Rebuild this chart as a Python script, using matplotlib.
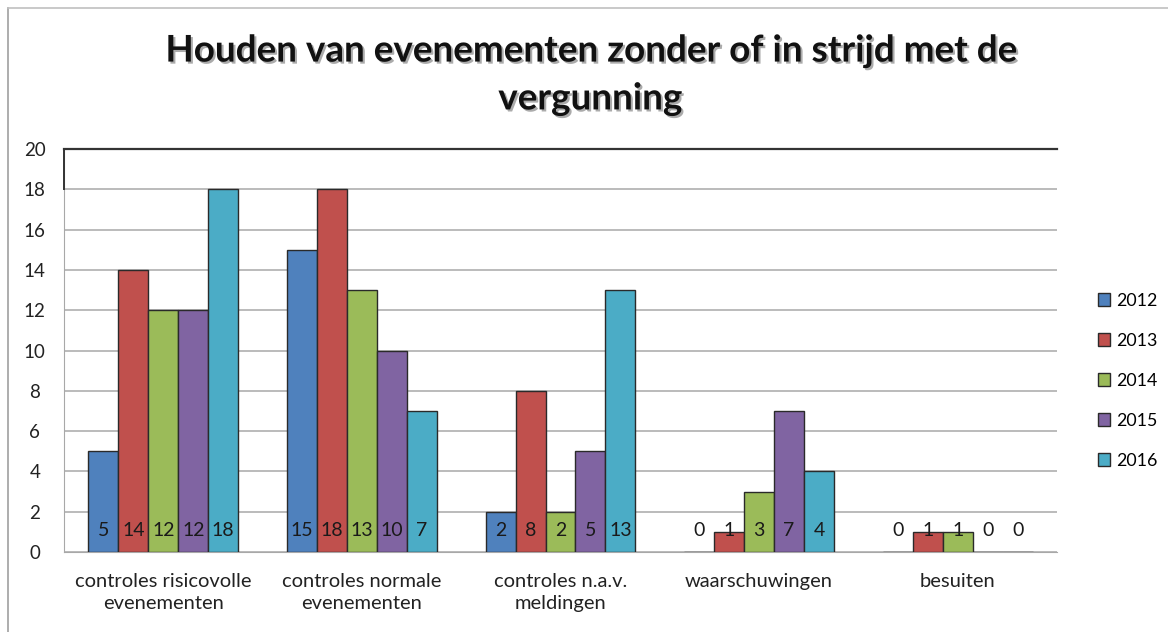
import matplotlib.pyplot as plt
import matplotlib.patheffects as pe
import numpy as np

#### data
categories = ["controles risicovolle\nevenementen",
              "controles normale\nevenementen",
              "controles n.a.v.\nmeldingen",
              "waarschuwingen",
              "besuiten"]
years = ["2012", "2013", "2014", "2015", "2016"]
v2012 = [5, 15, 2, 0, 0]
v2013 = [14, 18, 8, 1, 1]
v2014 = [12, 13, 2, 3, 1]
v2015 = [12, 10, 5, 7, 0]
v2016 = [18, 7, 13, 4, 0]
values = [v2012, v2013, v2014, v2015, v2016]

color_list = ["#4F81BD", "#C0504D", "#9BBB59", "#8064A2", "#4BACC6"]

plt.rcParams['font.family'] = ['Lato', 'DejaVu Sans']

fig = plt.figure(figsize=(11.68, 6.32), dpi=100)
main = fig.add_axes([64/1168, 1-552/632, (1057-64)/1168, (552-149)/632])

# chart border
fig.add_artist(plt.Line2D([8/1168, 8/1168], [0, 1-8/632], color="#a0a0a0", lw=1.2))
fig.add_artist(plt.Line2D([8/1168, 1], [1-8/632, 1-8/632], color="#c0c0c0", lw=1.2))

x = np.arange(len(categories))
w = 0.151
for i in range(len(years)):
    pos = x + (i - 2) * w
    main.bar(pos, values[i], width=w, color=color_list[i],
             edgecolor="#2a2a2a", linewidth=1, label=years[i], zorder=3)
    for p, v in zip(pos, values[i]):
        main.text(p, 1.05, str(v), ha="center", va="center",
                  fontsize=14, color="#1a1a1a", zorder=4)

main.set_xlim(-0.5, len(categories) - 0.5)
main.set_ylim(0, 20)
main.set_yticks(range(0, 21, 2))
main.set_xticks(x)
main.set_xticklabels(categories, fontsize=14.5, color="#222222", linespacing=1.4)
main.tick_params(axis="x", length=0, pad=15)
main.tick_params(axis="y", length=0, pad=21, labelsize=13.5, labelcolor="#222222")
for lab in main.get_yticklabels():
    lab.set_horizontalalignment("center")

main.grid(axis="y", color="#a8a8a8", linewidth=1.1, zorder=0)
for s in ["top", "right"]:
    main.spines[s].set_visible(False)
main.spines["left"].set_color("#a8a8a8")
main.spines["bottom"].set_color("#a8a8a8")
main.axhline(20, color="#333333", lw=1.6, zorder=5, clip_on=False)
main.plot([0, 0], [18, 20], transform=main.get_yaxis_transform(),
          color="#333333", lw=1.4, clip_on=False, zorder=5)

leg = main.legend(loc="center left", bbox_to_anchor=(1.025, 0.425), frameon=False,
                  fontsize=12.8, handlelength=0.7, handleheight=0.7,
                  handletextpad=0.35, labelspacing=1.35)

fig.text(0.505, 1-75/632, "Houden van evenementen zonder of in strijd met de\nvergunning",
         ha="center", va="center", fontsize=26.5, fontweight="bold",
         linespacing=1.55, color="#111111",
         path_effects=[pe.SimplePatchShadow(offset=(1.5, -1.5), shadow_rgbFace="#888888", alpha=0.7),
                       pe.Normal()])

plt.savefig("out.png", dpi=100)
